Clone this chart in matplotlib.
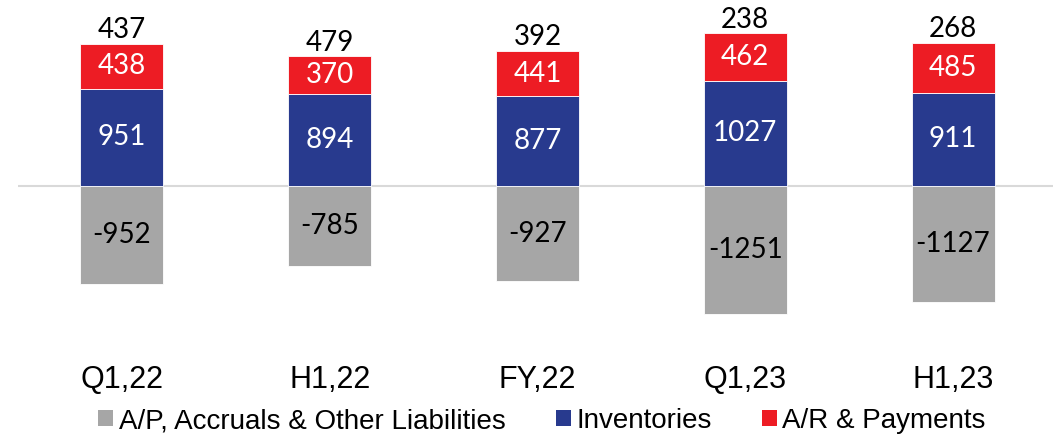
import matplotlib
matplotlib.use("Agg")
import matplotlib.pyplot as plt
from matplotlib.patches import Patch

categories = ["Q1,22", "H1,22", "FY,22", "Q1,23", "H1,23"]
liabilities = [-952, -785, -927, -1251, -1127]
inventories = [951, 894, 877, 1027, 911]
receivables = [438, 370, 441, 462, 485]
totals = [437, 479, 392, 238, 268]

c_gray = "#A6A6A6"
c_blue = "#283A8E"
c_red = "#ED1C24"

W, H = 1053, 437
fig = plt.figure(figsize=(W / 100, H / 100), dpi=100)
ax = fig.add_axes([18 / W, 1 - 330 / H, (1057 - 18) / W, 330 / H])

x = list(range(len(categories)))
bw = 0.40
ax.axhline(0, color="#D9D9D9", linewidth=1.5, zorder=1)
ax.bar(x, liabilities, width=bw, color=c_gray, edgecolor="white", linewidth=0.6, zorder=2)
ax.bar(x, inventories, width=bw, color=c_blue, edgecolor="white", linewidth=0.6, zorder=2)
ax.bar(x, receivables, width=bw, bottom=inventories, color=c_red, edgecolor="white", linewidth=0.6, zorder=2)

lab_font = "Lato"
for i in x:
    ax.text(i, liabilities[i] / 2, f"{liabilities[i]}", ha="center", va="center",
            fontsize=20, family=lab_font, color="black", zorder=3)
    ax.text(i, inventories[i] / 2, f"{inventories[i]}", ha="center", va="center",
            fontsize=20, family=lab_font, color="white", zorder=3)
    ax.text(i, inventories[i] + receivables[i] / 2, f"{receivables[i]}", ha="center", va="center",
            fontsize=20, family=lab_font, color="white", zorder=3)
    ax.annotate(f"{totals[i]}", (i, inventories[i] + receivables[i]), xytext=(0, 4),
                textcoords="offset points", ha="center", va="baseline",
                fontsize=20, family=lab_font, color="black")

ax.set_xlim(-0.5, 4.5)
ax.set_ylim(-1405, 1815)
ax.set_xticks(x)
ax.set_xticklabels(categories, fontsize=22, family="Liberation Sans")
ax.tick_params(axis="x", length=0, pad=25)
ax.set_yticks([])
for s in ax.spines.values():
    s.set_visible(False)

handles = [Patch(facecolor=c_gray), Patch(facecolor=c_blue), Patch(facecolor=c_red)]
labels = ["A/P, Accruals & Other Liabilities", "Inventories", "A/R & Payments"]
fig.legend(handles, labels, loc="center", bbox_to_anchor=(542 / W, 1 - 421 / H), ncol=3,
           frameon=False, prop={"family": "Liberation Sans", "size": 20},
           handlelength=0.54, handleheight=0.54, handletextpad=0.2, columnspacing=1.8,
           borderpad=0, borderaxespad=0)

fig.savefig("out.png", dpi=100)
